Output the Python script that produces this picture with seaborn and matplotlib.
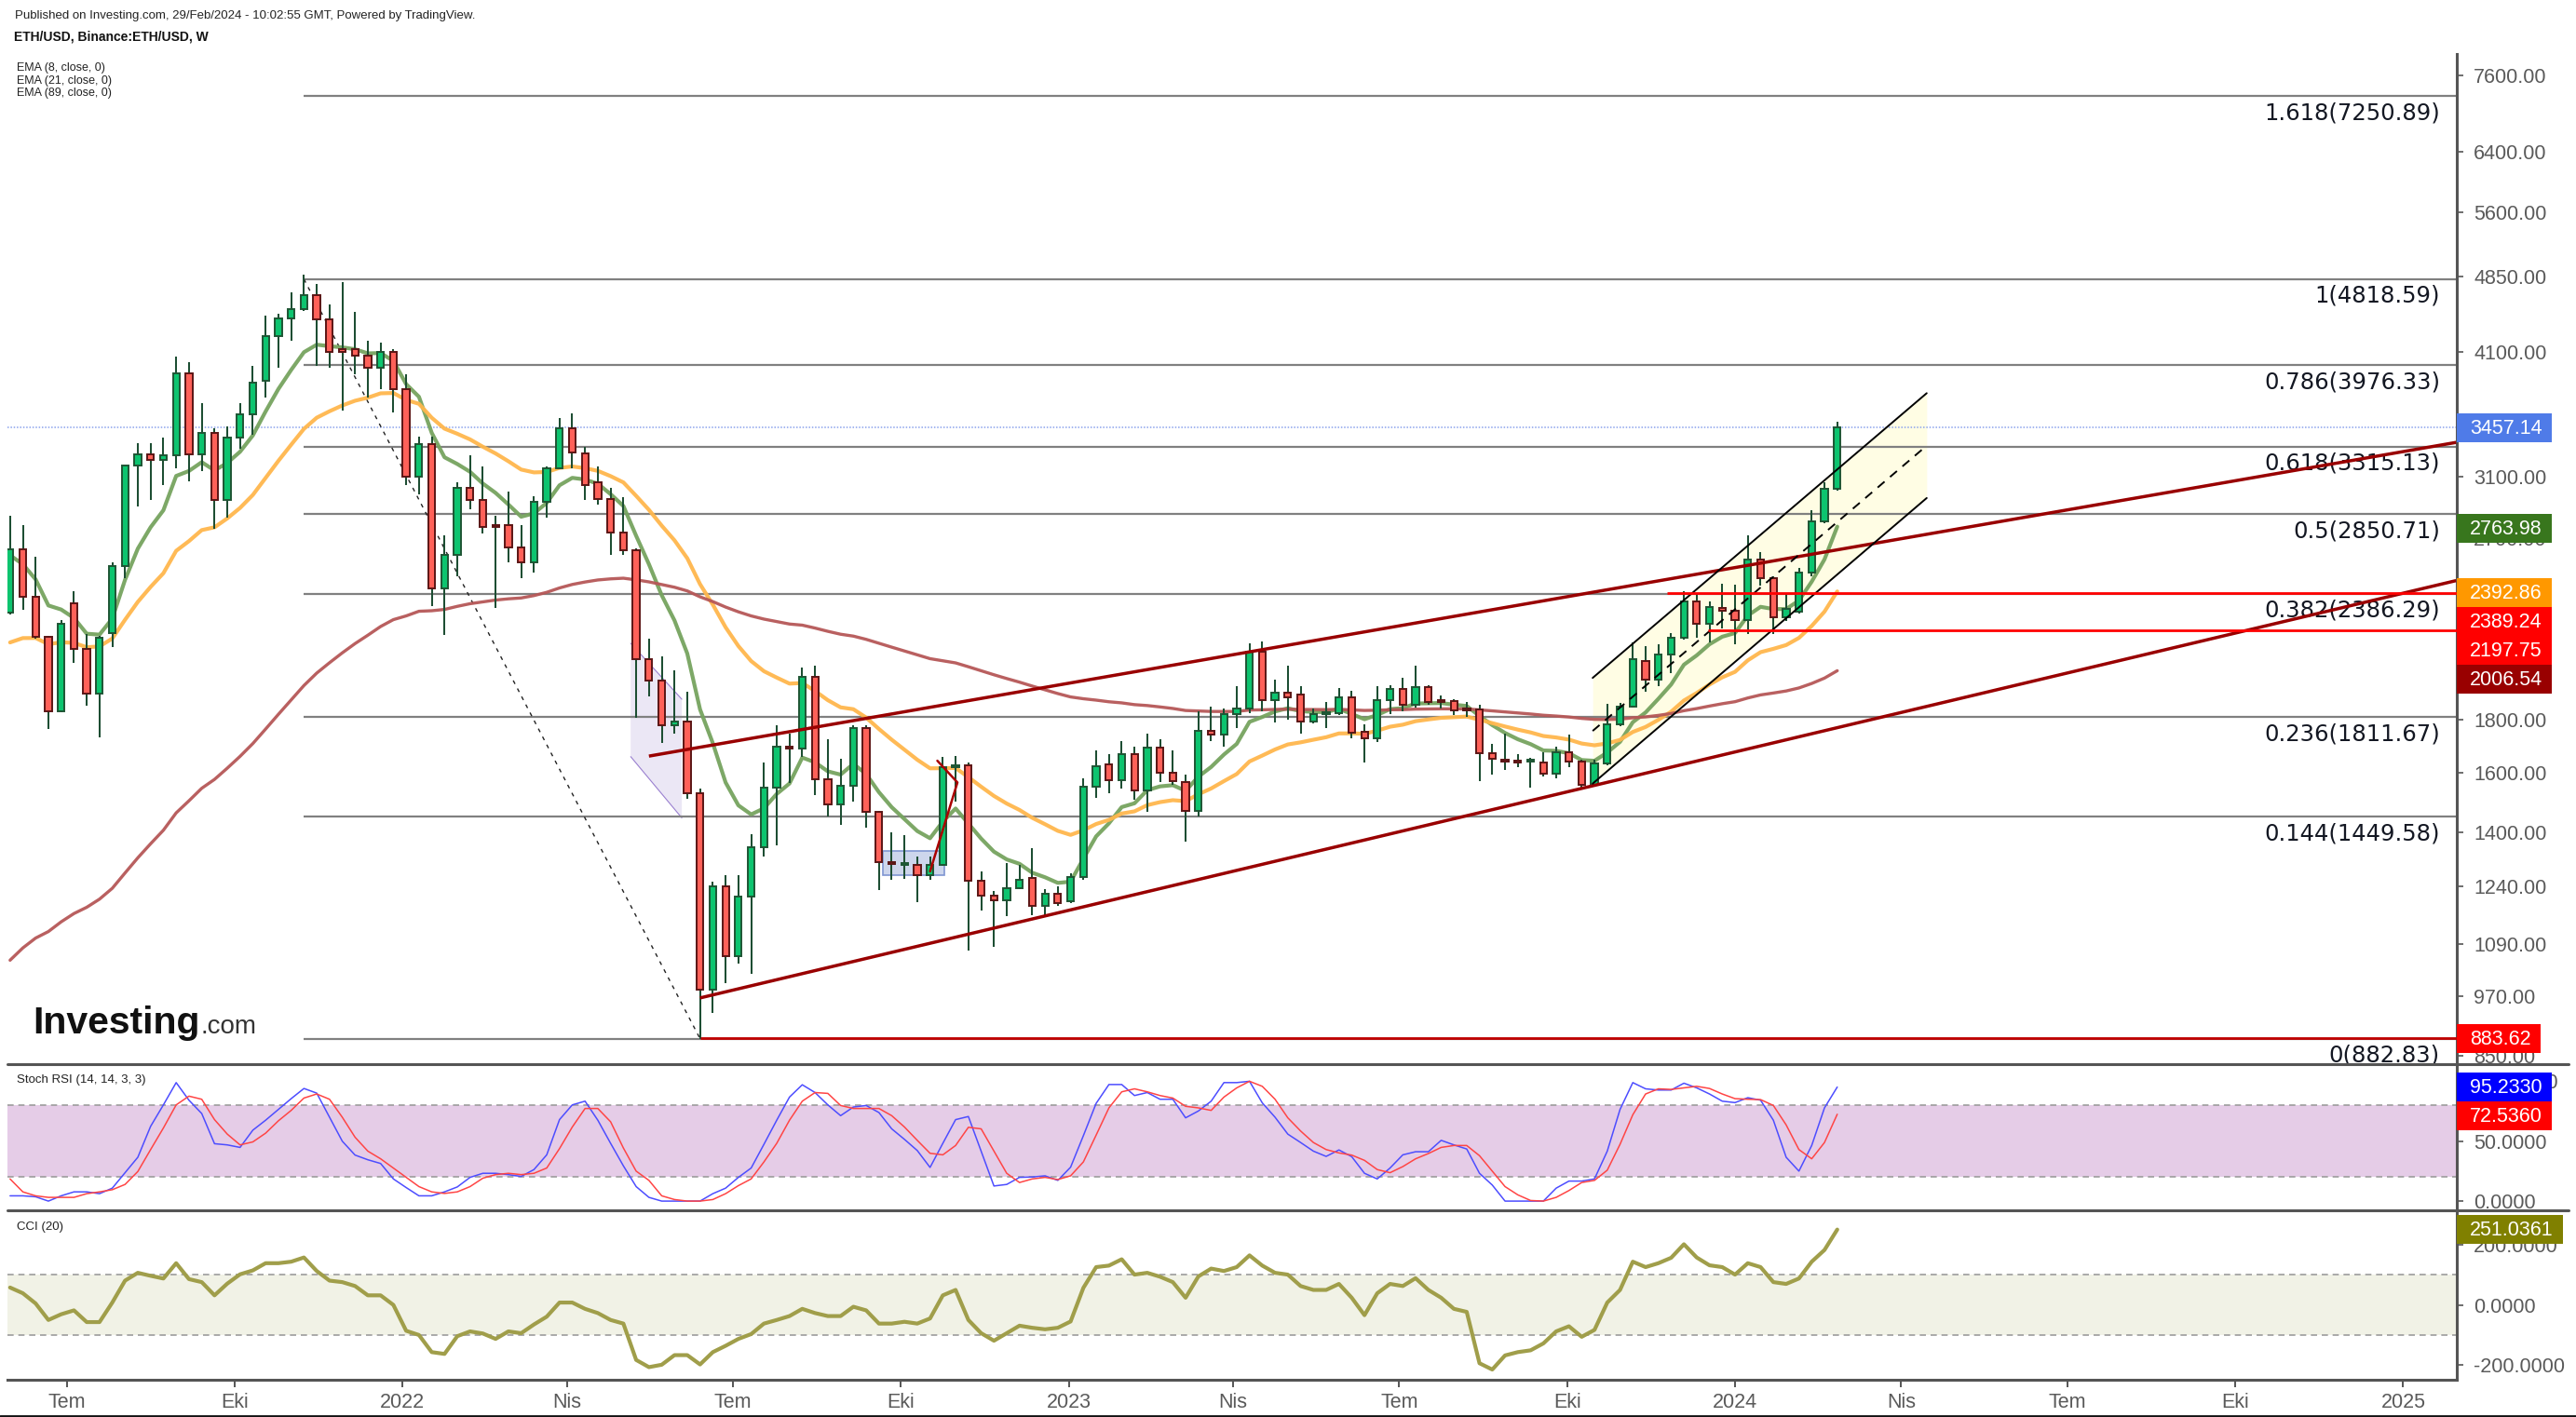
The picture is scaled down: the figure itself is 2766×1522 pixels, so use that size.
import numpy as np
import pandas as pd
import seaborn as sns
import matplotlib
matplotlib.use('Agg')
import matplotlib.pyplot as plt
import matplotlib.dates as mdates
from matplotlib.patches import Rectangle, Polygon
from matplotlib.lines import Line2D
from matplotlib.ticker import FixedLocator, FuncFormatter, NullLocator

# weekly candles, ETH/USD
start_date = '2021-05-31'
opens = [2288, 2635, 2370, 2166, 1836, 2335, 2110, 1908, 2185, 2536,
         3177, 3260, 3220, 3248, 3907, 3260, 3420, 2940, 3380, 3560,
         3840, 4240, 4415, 4510, 4650, 4405, 4120, 4120, 4065, 3950,
         4095, 3765, 3100, 3335, 2415, 2600, 3020, 2940, 2780, 2780,
         2645, 2560, 2930, 3160, 3450, 3265, 3060, 2950, 2735, 2630,
         2060, 1965, 1780, 1792, 1527, 985, 1240, 1062, 1214, 1353,
         1547, 1694, 1688, 1980, 1576, 1490, 1552, 1767, 1467, 1309,
         1303, 1303, 1272, 1303, 1620, 1625, 1256, 1215, 1202, 1237,
         1264, 1189, 1221, 1200, 1266, 1551, 1630, 1572, 1666, 1538,
         1693, 1598, 1567, 1468, 1758, 1742, 1825, 1846, 2094, 1880,
         1913, 1903, 1792, 1822, 1828, 1894, 1751, 1728, 1880, 1928,
         1861, 1935, 1877, 1877, 1842, 1842, 1672, 1645, 1642, 1640,
         1637, 1597, 1674, 1640, 1557, 1633, 1781, 1855, 2052, 1968,
         2085, 2163, 2344, 2229, 2311, 2295, 2248, 2578, 2473, 2266,
         2292, 2504, 2806, 3014]
highs = [2840, 2780, 2590, 2170, 2250, 2400, 2180, 2170, 2560, 3180,
         3340, 3340, 3380, 4050, 4000, 3650, 3450, 3470, 3650, 3970,
         4440, 4460, 4680, 4865, 4770, 4550, 4790, 4480, 4200, 4180,
         4120, 3900, 3390, 3390, 2720, 3060, 3250, 3170, 2840, 3000,
         2780, 2965, 3170, 3530, 3570, 3310, 3170, 3020, 2960, 2640,
         2158, 2075, 2010, 1915, 1545, 1255, 1272, 1272, 1395, 1637,
         1780, 1747, 2025, 2030, 1725, 1650, 1780, 1780, 1470, 1400,
         1390, 1325, 1327, 1656, 1660, 1635, 1284, 1228, 1307, 1302,
         1350, 1232, 1240, 1277, 1578, 1681, 1668, 1717, 1695, 1746,
         1723, 1681, 1592, 1833, 1855, 1846, 1940, 2135, 2143, 1968,
         2033, 1940, 1846, 1874, 1932, 1922, 1781, 1940, 1945, 1978,
         2030, 1945, 1900, 1884, 1874, 1861, 1705, 1746, 1668, 1654,
         1675, 1694, 1741, 1646, 1645, 1864, 1870, 2138, 2122, 2130,
         2187, 2401, 2385, 2344, 2442, 2433, 2721, 2621, 2483, 2385,
         2530, 2876, 3060, 3505]
lows = [2280, 2300, 2160, 1763, 1830, 2045, 1856, 1732, 2120, 2470,
        2900, 2940, 3040, 3160, 3070, 3140, 2760, 2830, 3300, 3400,
        3700, 3950, 4200, 4490, 3970, 3950, 3590, 3900, 3700, 3770,
        3580, 3040, 2980, 2320, 2175, 2480, 2880, 2730, 2310, 2560,
        2470, 2500, 2830, 3160, 3160, 2940, 2910, 2600, 2600, 1810,
        1897, 1708, 1745, 1510, 883, 935, 1000, 1045, 1020, 1325,
        1360, 1563, 1656, 1520, 1450, 1424, 1500, 1415, 1231, 1260,
        1262, 1198, 1258, 1300, 1500, 1074, 1175, 1085, 1160, 1232,
        1163, 1160, 1188, 1195, 1260, 1511, 1529, 1543, 1505, 1467,
        1568, 1557, 1371, 1451, 1718, 1697, 1768, 1829, 1836, 1789,
        1800, 1747, 1785, 1768, 1820, 1728, 1636, 1714, 1825, 1836,
        1849, 1861, 1846, 1819, 1812, 1570, 1592, 1610, 1618, 1546,
        1587, 1580, 1618, 1544, 1550, 1625, 1776, 1850, 1916, 1940,
        1998, 2155, 2163, 2138, 2210, 2133, 2180, 2430, 2180, 2245,
        2283, 2482, 2794, 3005]
closes = [2635, 2370, 2166, 1836, 2230, 2110, 1908, 2162, 2536, 3177,
          3260, 3220, 3250, 3907, 3260, 3420, 2940, 3380, 3560, 3825,
          4240, 4415, 4510, 4650, 4405, 4100, 4100, 4060, 3950, 4095,
          3765, 3100, 3335, 2415, 2600, 3020, 2940, 2768, 2768, 2645,
          2560, 2930, 3160, 3450, 3270, 3040, 2950, 2735, 2630, 2060,
          1965, 1780, 1792, 1527, 985, 1240, 1062, 1214, 1353, 1547,
          1694, 1688, 1980, 1576, 1490, 1552, 1767, 1467, 1309, 1304,
          1305, 1272, 1303, 1618, 1625, 1256, 1216, 1202, 1237, 1260,
          1189, 1221, 1195, 1266, 1551, 1624, 1572, 1666, 1538, 1693,
          1598, 1570, 1468, 1758, 1742, 1825, 1846, 2094, 1880, 1913,
          1894, 1792, 1822, 1828, 1894, 1749, 1728, 1880, 1928, 1861,
          1935, 1872, 1872, 1838, 1838, 1672, 1651, 1640, 1638, 1640,
          1597, 1674, 1640, 1557, 1633, 1781, 1855, 2060, 1968, 2085,
          2163, 2344, 2229, 2314, 2295, 2248, 2578, 2473, 2266, 2306,
          2504, 2806, 3014, 3457.14]

# EMA settings and their starting values read at the first candle
ema_periods = [8, 21, 89]
ema_seeds = [2600, 2140, 1052]

# Stoch RSI (14, 14, 3, 3) K and D, CCI (20)
stoch_k = [4.4, 4.4, 3.6, 0, 4.4, 7.7, 7.7, 6.2, 10.8, 23.7, 36.6, 62.4, 80.3, 98.9, 84.2,
           73.1, 47.9, 46.9, 44.8, 59.2, 67.5, 76.5, 85.5, 94.0, 90.1, 70.0, 50.0, 38.4, 34.5,
           31.4, 18.5, 11.3, 4.4, 4.4, 7.7, 11.8, 19.8, 23.2, 23.2, 22.1, 20.6, 26.3, 38.6, 68.0,
           80.3, 83.4, 67.5, 48.2, 29.4, 12.1,
           3.1, 0, 0, 0, 0, 6.2, 10.8, 19.8, 27.6, 47.4, 67.5, 86.8, 97.1, 90.6, 80.3, 71.3, 78.5,
           79.8, 73.9, 60.3, 51.5, 42.2, 28.1, 48.2, 68.0, 70.6, 41.7, 12.6, 13.9, 19.8, 20.1, 21.1,
           17.3, 28.3, 54.6, 81.6, 97.3, 97.3, 88.1, 90.6, 85.0, 85.0, 69.5, 75.2, 83.4, 98.9, 98.9,
           100, 82,
           70.0, 55.9, 48.9, 41.7, 37.3, 42.7, 37.1, 23.2, 18.5, 27.6, 38.6, 41.2, 41.2, 50.7, 46.9,
           43.5, 23.2, 13.4, 0, 0, 0, 0, 10.8, 16.7, 16.7, 18.5, 41.7, 76.5, 98.9, 93.7, 92.7, 92.7,
           98.4, 94.5, 89.4, 83.4, 82.2, 86.3, 84.2, 67.5, 36.6, 25.0, 46.4, 77.8, 95.2]
stoch_d = [18.5, 7.7, 4.4, 3.1, 3.1, 3.1, 6.2, 7.7, 9.5, 13.9, 24.7, 43.0, 61.0, 80.3, 87.6,
           85.0, 68.0, 55.9, 46.9, 49.4, 56.7, 67.0, 75.7, 86.0, 89.4, 85.0, 70.0, 53.3, 41.7,
           35.3, 27.6, 19.8, 12.1, 7.7, 6.4, 7.7, 12.1, 19.1, 22.1, 23.2, 22.1, 23.2, 27.6, 43.8,
           61.8, 77.3, 77.3, 66.2, 44.3, 25.0,
           17.3, 4.4, 1.3, 0, 0, 1.3, 6.2, 12.9, 18.5, 32.7, 48.2, 67.5, 83.4, 90.6, 89.9, 79.8,
           77.3, 77.3, 77.3, 71.3, 61.8, 50.7, 39.9, 38.6, 46.4, 61.6, 60.3, 41.7, 23.2, 15.5, 18.5,
           19.8, 18.0, 21.1, 32.7, 55.1, 77.8, 91.2, 93.7, 91.2, 88.1, 86.0, 79.1, 77.8, 75.7, 86.8,
           94.5, 100, 95.8,
           85.0, 69.5, 58.5, 48.9, 43.0, 40.2, 38.4, 34.0, 26.3, 23.7, 28.8, 35.3, 39.7, 44.8, 46.4,
           46.4, 37.9, 25.0, 12.1, 5.2, 0.5, 0, 3.1, 8.8, 15.5, 17.3, 25.8, 47.4, 72.1, 89.4, 93.7,
           93.2, 94.5, 95.8, 94.0, 89.4, 85.5, 85.0, 84.7, 79.8, 63.6, 43.0, 35.3, 48.9, 72.5]
cci = [58, 39, 5, -50, -31, -18, -57, -57, 8, 81, 107, 97, 88, 139, 86, 76, 32, 71, 102, 115,
       139, 139, 144, 158, 113, 81, 76, 63, 32, 32, 0, -86, -100, -157, -163, -104, -88, -95,
       -113, -88, -94, -65, -39, 8, 8, -13, -27, -50, -62, -183,
       -207, -199, -167, -167, -198, -157, -136, -113, -97, -62, -50, -37, -13, -27, -37, -37,
       -6, -18, -62, -62, -56, -62, -45, 32, 50, -50, -94, -119, -94, -69, -76, -81, -76, -55,
       57, 126, 131, 152, 101, 107, 94, 76, 24, 95, 121, 113, 126, 165, 131,
       107, 101, 63, 50, 50, 70, 24, -34, 39, 70, 63, 89, 50, 24, -13, -23, -194, -215, -168,
       -157, -151, -128, -88, -71, -106, -83, 8, 50, 144, 126, 139, 157, 202, 158, 132, 126,
       101, 139, 126, 76, 70, 88, 144, 183, 251]

# fibonacci retracement (drawn from the Nov 2021 top to the Jun 2022 low)
fib_ratios = ['1.618', '1', '0.786', '0.618', '0.5', '0.382', '0.236', '0.144', '0']
fib_values = [7250.89, 4818.59, 3976.33, 3315.13, 2850.71, 2386.29, 1811.67, 1449.58, 882.83]
fib_start = '2021-11-08'
fib_end = '2022-06-13'

# trend lines (start, end) and horizontal rays
upper_trend = [('2022-05-16', 1660), ('2025-01-30', 3346)]
lower_trend = [('2022-06-13', 967), ('2025-01-30', 2457)]
channel_dates = ['2023-10-15', '2024-04-15']
channel_low = [1561, 2955]
channel_mid = [1756, 3322]
channel_high = [1977, 3735]
rays = [('2023-11-25', 2389.24), ('2023-12-17', 2197.75)]
bottom_ray = ('2022-06-13', 883.62)
last_price = 3457.14
lav_dates = ['2022-05-06', '2022-06-03']
lav_top = [2136, 1885]
lav_bottom = [1658, 1446]
box_dates = ['2022-09-21', '2022-10-25']
box_prices = [1273, 1342]
small_path = [('2022-10-21', 1643), ('2022-11-01', 1565), ('2022-10-17', 1283)]

# price tags on the right scale
main_tags = [(3457.14, '3457.14', '#4f7be8'), (2763.98, '2763.98', '#38761d'),
             (2392.86, '2392.86', '#ff9800'), (2389.24, '2389.24', '#ff0000'),
             (2197.75, '2197.75', '#ff0000'), (2006.54, '2006.54', '#990000'),
             (883.62, '883.62', '#ff0000')]
stoch_tags = [(95.233, '95.2330', '#0000ff'), (72.536, '72.5360', '#ff0000')]
cci_tags = [(251.0361, '251.0361', '#808000')]

price_ticks = [850, 970, 1090, 1240, 1400, 1600, 1800, 2700, 3100, 4100, 4850, 5600, 6400, 7600]
month_names = {1: None, 4: 'Nis', 7: 'Tem', 10: 'Eki'}

# ---------------------------------------------------------------
W, H = 2766, 1522
sns.set_theme(style='white')
plt.rcParams['font.family'] = ['Liberation Sans', 'DejaVu Sans']
plt.rcParams['axes.facecolor'] = 'white'

fig = plt.figure(figsize=(W / 100, H / 100), dpi=100)
fig.patch.set_facecolor('white')


def fx(px):
    return px / W


def fy(py):
    return 1 - py / H


ax = fig.add_axes([fx(8), fy(1143), fx(2630), (1143 - 58) / H])
ax_st = fig.add_axes([fx(8), fy(1300), fx(2630), 157 / H])
ax_cc = fig.add_axes([fx(8), fy(1482), fx(2630), 182 / H])

dates = pd.date_range(start_date, periods=len(closes), freq='7D')
xs = mdates.date2num(dates)
x_left = xs[0] - 1.43
x_right = xs[0] + 1340.4


def dn(s):
    return mdates.date2num(pd.Timestamp(s))


o = np.array(opens, float)
h = np.array(highs, float)
l = np.array(lows, float)
c = np.array(closes, float)

# EMAs
emas = []
for period, seed in zip(ema_periods, ema_seeds):
    a = 2.0 / (period + 1)
    e = [seed]
    for v in c[1:]:
        e.append(a * v + (1 - a) * e[-1])
    emas.append(np.array(e))

# ---------------- main panel ----------------
ax.set_yscale('log')
ax.set_ylim(834, 7970)
ax.set_xlim(x_left, x_right)

# channel fill and drawings behind candles
cx = [dn(d) for d in channel_dates]
ax.fill_between(cx, channel_low, channel_high, color='#fffde4', zorder=1, lw=0)
lx = [dn(d) for d in lav_dates]
ax.add_patch(Polygon([(lx[0], lav_top[0]), (lx[1], lav_top[1]), (lx[1], lav_bottom[1]),
                      (lx[0], lav_bottom[0])], closed=True, facecolor='#ebe7f5',
                     edgecolor='none', zorder=1))
ax.plot(lx, lav_top, color='#9a80d0', lw=0.8, zorder=1.1)
ax.plot(lx, lav_bottom, color='#9a80d0', lw=0.8, zorder=1.1)
bx = [dn(d) for d in box_dates]
ax.add_patch(Rectangle((bx[0], box_prices[0]), bx[1] - bx[0], box_prices[1] - box_prices[0],
                       facecolor='#cdd6ec', edgecolor='#7f96d2', lw=1.2, zorder=1.2))

# fib levels
fs = dn(fib_start)
ax.hlines(fib_values, fs, x_right, color='#808080', lw=1.6, zorder=1.5)
ax.plot([fs, dn(fib_end)], [fib_values[1], fib_values[-1]], color='#222222', lw=1.0,
        ls=(0, (3, 4)), zorder=1.6)
for r, v in zip(fib_ratios, fib_values):
    ax.annotate(f'{r}({v:.2f})', xy=(1, v), xycoords=('axes fraction', 'data'),
                xytext=(-18, -6), textcoords='offset pixels', ha='right', va='top',
                fontsize=17.5, family='DejaVu Sans', color='#131722', zorder=3.5)

ax.axhline(last_price, color='#8aa2ec', lw=1.1, ls=(0, (1, 1.2)), zorder=1.3)

# EMAs
ema_colors = ['#76a35f', '#ffb74d', '#b65757']
ema_widths = [3.0, 3.0, 2.4]
for e, col, lw in zip(emas, ema_colors, ema_widths):
    sns.lineplot(x=xs, y=e, ax=ax, color=col, lw=lw, sort=False, zorder=2, alpha=0.95)

# candles
up = c >= o
b_low = np.minimum(o, c)
b_high = np.maximum(o, c)
b_high = np.maximum(b_high, b_low * 1.004)
ax.vlines(xs, l, h, color='#1d4e33', lw=1.45, zorder=3)
ax.bar(xs[up], (b_high - b_low)[up], bottom=b_low[up], width=3.7, color='#0dc46f',
       edgecolor='#1e5534', linewidth=1.4, zorder=3.1)
ax.bar(xs[~up], (b_high - b_low)[~up], bottom=b_low[~up], width=3.7, color='#ff6159',
       edgecolor='#5b1515', linewidth=1.4, zorder=3.1)

# trend lines and rays
for line in (upper_trend, lower_trend):
    ax.plot([dn(line[0][0]), dn(line[1][0])], [line[0][1], line[1][1]], color='#990000',
            lw=2.5, zorder=4, solid_capstyle='butt')
ax.plot(cx, channel_low, color='black', lw=1.4, zorder=4)
ax.plot(cx, channel_high, color='black', lw=1.4, zorder=4)
ax.plot(cx, channel_mid, color='black', lw=1.4, ls=(0, (5, 4)), zorder=4)
for d, v in rays:
    ax.hlines(v, dn(d), x_right, color='#ff0000', lw=2.0, zorder=4)
ax.hlines(bottom_ray[1], dn(bottom_ray[0]), x_right, color='#c00000', lw=2.0, zorder=4)
ax.plot([dn(d) for d, _ in small_path], [v for _, v in small_path], color='#aa0000',
        lw=1.8, zorder=4)

ax.yaxis.set_major_locator(FixedLocator(price_ticks))
ax.yaxis.set_minor_locator(NullLocator())
ax.yaxis.set_major_formatter(FuncFormatter(lambda v, p: f'{v:.2f}'))

# ---------------- stoch rsi ----------------
ax_st.set_xlim(x_left, x_right)
ax_st.set_ylim(-7.7, 114.3)
ax_st.axhspan(20, 80, color='#e5cce7', zorder=0, lw=0)
ax_st.axhline(80, color='#9c9c9c', lw=1.2, ls=(0, (4, 3)), zorder=1)
ax_st.axhline(20, color='#9c9c9c', lw=1.2, ls=(0, (4, 3)), zorder=1)
sns.lineplot(x=xs, y=stoch_k, ax=ax_st, color='#4d4dff', lw=1.1, sort=False, zorder=2)
sns.lineplot(x=xs, y=stoch_d, ax=ax_st, color='#ff4545', lw=1.1, sort=False, zorder=2)
ax_st.yaxis.set_major_locator(FixedLocator([0, 50, 100]))
ax_st.yaxis.set_major_formatter(FuncFormatter(lambda v, p: f'{v:.4f}'))

# ---------------- cci ----------------
ax_cc.set_xlim(x_left, x_right)
ax_cc.set_ylim(-249, 315)
ax_cc.axhspan(-100, 100, color='#f1f2e6', zorder=0, lw=0)
ax_cc.axhline(100, color='#9c9c9c', lw=1.2, ls=(0, (4, 3)), zorder=1)
ax_cc.axhline(-100, color='#9c9c9c', lw=1.2, ls=(0, (4, 3)), zorder=1)
sns.lineplot(x=xs, y=cci, ax=ax_cc, color='#a09e4a', lw=3.0, sort=False, zorder=2)
ax_cc.yaxis.set_major_locator(FixedLocator([-200, 0, 200]))
ax_cc.yaxis.set_major_formatter(FuncFormatter(lambda v, p: f'{v:.4f}'))

tick_dates = pd.date_range('2021-07-01', '2025-01-01', freq='3MS')
ax_cc.xaxis.set_major_locator(FixedLocator(mdates.date2num(tick_dates)))
ax_cc.xaxis.set_major_formatter(FixedFormatter := FuncFormatter(
    lambda v, p: (str(mdates.num2date(v).year) if mdates.num2date(v).month == 1
                  else month_names[mdates.num2date(v).month])))

for a in (ax, ax_st, ax_cc):
    a.grid(False)
    a.set_xlabel('')
    a.set_ylabel('')
    a.yaxis.tick_right()
    a.tick_params(axis='y', which='major', direction='out', length=5, width=1.2,
                  color='#555555', labelcolor='#5a5a5a', labelsize=15.5, pad=8, left=False,
                  right=True)
    a.tick_params(axis='y', which='minor', length=0)
    for s in ('left', 'top', 'bottom'):
        a.spines[s].set_visible(False)
    a.spines['right'].set_color('#555555')
    a.spines['right'].set_linewidth(2.2)
for a in (ax, ax_st):
    a.tick_params(axis='x', bottom=False, labelbottom=False)
ax_cc.spines['bottom'].set_visible(True)
ax_cc.spines['bottom'].set_color('#555555')
ax_cc.spines['bottom'].set_linewidth(2.2)
ax_cc.tick_params(axis='x', direction='out', length=6, width=1.4, color='#555555',
                  labelcolor='#5a5a5a', labelsize=15.5, pad=4, bottom=True)

# panel separators and frame
for yy in (1143, 1300):
    fig.add_artist(Line2D([fx(8), fx(2758)], [fy(yy), fy(yy)], transform=fig.transFigure,
                          color='#555555', lw=2.2))
fig.add_artist(Line2D([0, 1], [fy(1520.5), fy(1520.5)], transform=fig.transFigure,
                      color='#111111', lw=2))

# header texts
fig.text(fx(16), fy(17), 'Published on Investing.com, 29/Feb/2024 - 10:02:55 GMT, Powered by TradingView.',
         fontsize=9.5, va='center', color='#222222')
fig.text(fx(15), fy(40), 'ETH/USD, Binance:ETH/USD, W', fontsize=10, fontweight='bold',
         va='center', color='#111111')
for yy, p in zip((73, 87, 100), ema_periods):
    fig.text(fx(18), fy(yy), f'EMA ({p}, close, 0)', fontsize=9, va='center', color='#222222')
fig.text(fx(18), fy(1160), 'Stoch RSI (14, 14, 3, 3)', fontsize=9.5, va='center', color='#222222')
fig.text(fx(18), fy(1318), 'CCI (20)', fontsize=9.5, va='center', color='#222222')

renderer = fig.canvas.get_renderer()
logo = fig.text(fx(35), fy(1110), 'Investing', fontsize=29.5, fontweight='bold',
                va='baseline', color='#111111')
lw_px = logo.get_window_extent(renderer=renderer).width
fig.text(fx(35 + lw_px + 1), fy(1110), '.com', fontsize=20, va='baseline', color='#333333')


def draw_tags(axis, tags):
    prev = None
    for val, txt, col in sorted(tags, key=lambda t: -t[0]):
        y_top = H - axis.transData.transform((x_right, val))[1]
        if prev is not None and y_top < prev + 31:
            y_top = prev + 31
        prev = y_top
        t = fig.text(fx(2652), fy(y_top + 1), txt, fontsize=15.5, color='white',
                     ha='left', va='center', zorder=6)
        tw = t.get_window_extent(renderer=renderer).width
        fig.add_artist(Rectangle((fx(2638), fy(y_top + 15.5)), fx(tw + 24), 31 / H,
                                 transform=fig.transFigure, facecolor=col,
                                 edgecolor='none', zorder=5))


draw_tags(ax, main_tags)
draw_tags(ax_st, stoch_tags)
draw_tags(ax_cc, cci_tags)

fig.savefig('out.png', dpi=100, facecolor='white')
